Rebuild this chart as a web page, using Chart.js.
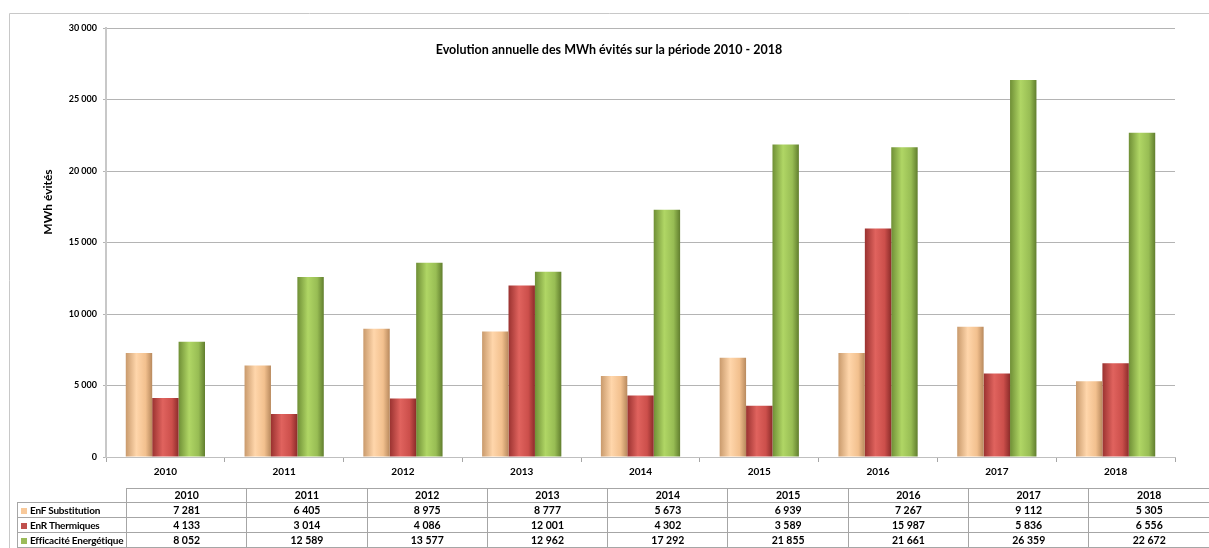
<!DOCTYPE html>
<html>
<head>
<meta charset="utf-8">
<script src="https://cdn.jsdelivr.net/npm/chart.js@4.4.1/dist/chart.umd.min.js"></script>
<style>
  body { margin: 0; background: #fff; }
  #wrap { position: relative; width: 1209px; height: 548px; overflow: hidden; }
  #moneyCanvas { position: absolute; left: 0; top: 0; }
  #dataTable {
    position: absolute; left: 17px; top: 488px; width: 1192px;
    border-collapse: collapse; table-layout: fixed;
    font-family: Lato, "Open Sans", sans-serif; font-size: 10.5px; font-weight: bold; color: #000;
  }
  #dataTable td { border: 1px solid #a6a6a6; padding: 0; text-align: center; height: 14px; line-height: 13px; }
  #dataTable tr.head td { height: 12px; }
  #dataTable td.lab { text-align: left; padding-left: 3px; white-space: nowrap; overflow: hidden; font-size: 10px; letter-spacing: -0.2px; }
  #dataTable td.blank { border: none; }
  #dataTable td.last { border-right: none; }
  .sq { display: inline-block; width: 6px; height: 6px; margin-right: 3px; }
</style>
</head>
<body>
<div id="wrap">
  <canvas id="moneyCanvas" width="1209" height="548"></canvas>
  <table id="dataTable"></table>
</div>
<script>
"use strict"

//Years on the x axis
const years = ['2010', '2011', '2012', '2013', '2014', '2015', '2016', '2017', '2018'];

//MWh avoided per year
const enfSubstitution = [7281, 6405, 8975, 8777, 5673, 6939, 7267, 9112, 5305];
const enrThermiques = [4133, 3014, 4086, 12001, 4302, 3589, 15987, 5836, 6556];
const efficaciteEnergetique = [8052, 12589, 13577, 12962, 17292, 21855, 21661, 26359, 22672];

const seriesNames = ['EnF Substitution', 'EnR Thermiques', 'Efficacité Energétique'];

//y axis ticks
const yTicks = [0, 5000, 10000, 15000, 20000, 25000, 30000];

//flat colours + cylinder shading
const flatColors = ['#f8c99a', '#c0504d', '#9bbb59'];
const shades = [
    ['#c99a6c', '#ffd6ab', '#f2c08e', '#b8895d'],
    ['#9a3230', '#e0635e', '#cc4f4b', '#8c2c2a'],
    ['#6f8f36', '#b0d665', '#98bd54', '#617e2e']
];

function fmt(v) {
    return String(v).replace(/\B(?=(\d{3})+(?!\d))/g, ' ');
}

//Builds the data table under the chart
function BuildTable() {
    const table = document.getElementById('dataTable');
    let html = '<colgroup><col style="width:109px">';
    years.forEach(() => { html += '<col style="width:120.3px">'; });
    html += '</colgroup><tr class="head"><td class="blank"></td>';
    years.forEach((y, i) => {
        html += '<td' + (i == years.length - 1 ? ' class="last"' : '') + '>' + y + '</td>';
    });
    html += '</tr>';
    const rows = [enfSubstitution, enrThermiques, efficaciteEnergetique];
    rows.forEach((row, r) => {
        html += '<tr><td class="lab"><span class="sq" style="background:' + flatColors[r] + '"></span>' + seriesNames[r] + '</td>';
        row.forEach((v, i) => {
            html += '<td' + (i == row.length - 1 ? ' class="last"' : '') + '>' + fmt(v) + '</td>';
        });
        html += '</tr>';
    });
    table.innerHTML = html;
}

const cylinderPlugin = {
    id: 'cylinder',
    beforeDatasetsDraw(chart) {
        const ctx = chart.ctx;
        chart.data.datasets.forEach((ds, i) => {
            const meta = chart.getDatasetMeta(i);
            meta.data.forEach(bar => {
                const left = bar.x - bar.width / 2;
                const g = ctx.createLinearGradient(left, 0, left + bar.width, 0);
                g.addColorStop(0, shades[i][0]);
                g.addColorStop(0.4, shades[i][1]);
                g.addColorStop(0.75, shades[i][2]);
                g.addColorStop(1, shades[i][3]);
                bar.options.backgroundColor = g;
            });
        });
    }
};

const decorPlugin = {
    id: 'decor',
    beforeDraw(chart) {
        const ctx = chart.ctx;
        ctx.save();
        ctx.strokeStyle = '#c8c8c8';
        ctx.lineWidth = 1;
        ctx.beginPath();
        ctx.moveTo(9.5, 548);
        ctx.lineTo(9.5, 13.5);
        ctx.lineTo(1209, 13.5);
        ctx.stroke();
        ctx.restore();
    },
    afterDraw(chart) {
        const ctx = chart.ctx;
        ctx.save();
        ctx.fillStyle = '#000';
        ctx.textAlign = 'center';
        ctx.textBaseline = 'middle';
        ctx.font = 'bold 12.5px Lato, "Open Sans", sans-serif';
        ctx.fillText('Evolution annuelle des MWh évités sur la période 2010 - 2018', 609, 50);
        ctx.translate(48, 202);
        ctx.rotate(-Math.PI / 2);
        ctx.font = 'bold 12px Lato, "Open Sans", sans-serif';
        ctx.fillText('MWh évités', 0, 0);
        ctx.restore();
    }
};

function DrawChart() {

    const seriesData = [enfSubstitution, enrThermiques, efficaciteEnergetique];
    const datasets = seriesData.map((d, i) => ({
        label: seriesNames[i],
        data: d,
        backgroundColor: () => flatColors[i],
        borderWidth: 0,
        categoryPercentage: 0.667,
        barPercentage: 1.0
    }));

    const config = {
        type: 'bar',
        data: {
            labels: years,
            datasets: datasets
        },
        options: {
            responsive: false,
            animation: false,
            devicePixelRatio: 1,
            layout: { padding: { left: 0, right: 34, top: 28, bottom: 0 } },
            plugins: {
                legend: { display: false },
                title: { display: false },
                tooltip: { enabled: false }
            },
            scales: {
                x: {
                    afterFit: (scale) => { scale.height = 91; },
                    grid: { drawOnChartArea: false, tickLength: 5, color: '#a6a6a6' },
                    border: { color: '#bfbfbf', width: 1 },
                    ticks: {
                        padding: 4,
                        color: '#000',
                        font: { family: 'Lato, "Open Sans", sans-serif', size: 10, weight: 'bold' }
                    }
                },
                y: {
                    min: 0,
                    max: 30000,
                    afterFit: (scale) => { scale.width = 106; },
                    afterBuildTicks: (scale) => { scale.ticks = yTicks.map(v => ({ value: v })); },
                    grid: { color: '#b4b4b4', tickLength: 3 },
                    border: { color: '#c8c8c8', width: 2 },
                    ticks: {
                        padding: 6,
                        color: '#000',
                        font: { family: 'Lato, "Open Sans", sans-serif', size: 9, weight: 'bold' },
                        callback: (v) => fmt(v)
                    }
                }
            }
        },
        plugins: [cylinderPlugin, decorPlugin]
    };

    window.myChart = new Chart(document.getElementById('moneyCanvas'), config);
}

BuildTable();
DrawChart();
</script>
</body>
</html>
